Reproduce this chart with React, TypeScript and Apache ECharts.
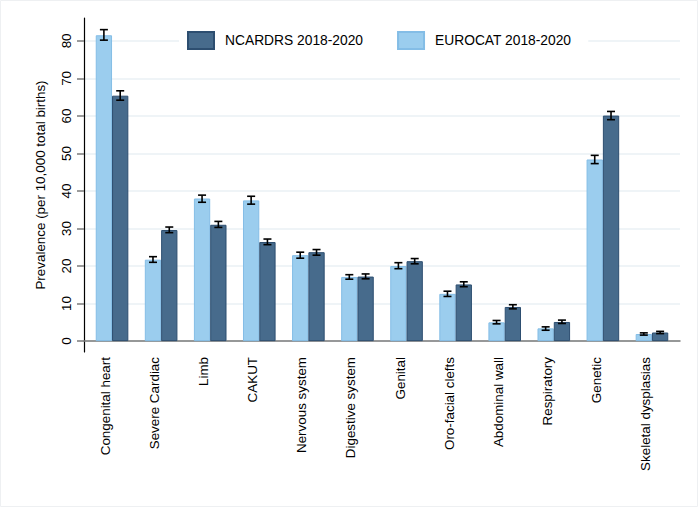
import React, { useEffect, useRef } from "react";
import * as echarts from "echarts";

const categories = [
  "Congenital heart",
  "Severe Cardiac",
  "Limb",
  "CAKUT",
  "Nervous system",
  "Digestive system",
  "Genital",
  "Oro-facial clefts",
  "Abdominal wall",
  "Respiratory",
  "Genetic",
  "Skeletal dysplasias",
];

const eurocat = [81.5, 21.7, 38.0, 37.5, 22.9, 17.1, 20.0, 12.6, 5.0, 3.4, 48.4, 1.9];
const eurocatLow = [80.2, 21.0, 37.0, 36.5, 22.1, 16.5, 19.3, 11.9, 4.6, 2.9, 47.3, 1.6];
const eurocatHigh = [83.0, 22.5, 38.9, 38.6, 23.7, 17.7, 20.9, 13.3, 5.5, 3.8, 49.5, 2.2];

const ncardrs = [65.4, 29.6, 31.0, 26.4, 23.7, 17.2, 21.3, 15.1, 9.1, 5.1, 60.1, 2.3];
const ncardrsLow = [64.2, 28.9, 30.3, 25.7, 22.9, 16.6, 20.6, 14.5, 8.6, 4.7, 59.0, 2.0];
const ncardrsHigh = [66.7, 30.4, 31.9, 27.2, 24.4, 17.9, 22.0, 15.8, 9.7, 5.6, 61.2, 2.6];

const yMin = -2.9;
const yMax = 86.1;
const tickMin = 0;
const tickMax = 80;
const tickStep = 10;

const NAME_N = "NCARDRS 2018-2020";
const NAME_E = "EUROCAT 2018-2020";
const FONT = "Arial, 'Liberation Sans', Helvetica, sans-serif";

function errorSeries(low: number[], high: number[], offset: number) {
  return {
    type: "custom",
    silent: true,
    z: 5,
    xAxisIndex: 0,
    yAxisIndex: 0,
    data: low.map((l, i) => [i, l, high[i]]),
    encode: { x: 0, y: [1, 2] },
    renderItem: (params: any, api: any) => {
      const idx = api.value(0);
      const lo = api.coord([idx, api.value(1)]);
      const hi = api.coord([idx, api.value(2)]);
      const x = lo[0] + offset;
      const cap = 4;
      const style = { stroke: "#000", lineWidth: 1.6 };
      return {
        type: "group",
        children: [
          { type: "line", shape: { x1: x, y1: lo[1], x2: x, y2: hi[1] }, style },
          { type: "line", shape: { x1: x - cap, y1: lo[1], x2: x + cap, y2: lo[1] }, style },
          { type: "line", shape: { x1: x - cap, y1: hi[1], x2: x + cap, y2: hi[1] }, style },
        ],
      };
    },
  };
}

export default function App() {
  const ref = useRef<HTMLDivElement>(null);
  useEffect(() => {
    if (!ref.current) return;
    const chart = echarts.init(ref.current, undefined, { renderer: "svg" });
    const top = 18;
    const bottom = 155;
    const h = 507 - top - bottom;
    const ppu = h / (yMax - yMin);
    const zeroY = top + (yMax - tickMin) * ppu;
    const topTick = top + (yMax - tickMax) * ppu;
    const outerLeft = 84;
    const outerRight = 18;
    chart.setOption({
      animation: false,
      backgroundColor: "#fff",
      textStyle: { fontFamily: FONT },
      graphic: [
        {
          type: "rect",
          shape: { x: 0.5, y: 0.5, width: 697, height: 506 },
          style: { fill: "none", stroke: "#eef0f2", lineWidth: 1 },
          silent: true,
        },
      ],
      grid: [
        { left: 87.5, right: 21.5, top, bottom, containLabel: false },
        { left: outerLeft, right: outerRight, top: topTick, bottom: 507 - zeroY, containLabel: false },
        { left: outerLeft, right: outerRight, top, bottom, containLabel: false },
      ],
      legend: {
        data: [NAME_N, NAME_E],
        left: 179,
        top: 24,
        padding: [7, 17, 7, 8],
        backgroundColor: "#fff",
        itemGap: 34,
        itemWidth: 26,
        itemHeight: 17,
        icon: "rect",
        z: 10,
        textStyle: { fontSize: 13.8, color: "#000", fontFamily: FONT, padding: [0, 0, 0, 6] },
      },
      xAxis: [
        {
          type: "category",
          gridIndex: 0,
          data: categories,
          axisLine: { show: false },
          axisTick: { show: false },
          axisLabel: {
            rotate: 90,
            interval: 0,
            margin: 5,
            fontSize: 13.4,
            color: "#000",
            fontFamily: FONT,
            verticalAlign: "bottom",
          },
          splitLine: { show: false },
        },
        { type: "category", gridIndex: 1, data: categories, show: false },
        {
          type: "category",
          gridIndex: 2,
          data: categories,
          axisLine: { show: true, lineStyle: { color: "#7a7a7a", width: 1.5 } },
          axisTick: { show: false },
          axisLabel: { show: false },
          splitLine: { show: false },
        },
      ],
      yAxis: [
        { type: "value", gridIndex: 0, min: yMin, max: yMax, show: false },
        {
          type: "value",
          gridIndex: 1,
          min: tickMin,
          max: tickMax,
          interval: tickStep,
          axisLine: { show: false },
          axisTick: {
            show: true,
            length: 7,
            lineStyle: { color: "#7a7a7a", width: 1.5 },
          },
          axisLabel: {
            rotate: 90,
            margin: 11,
            fontSize: 13.4,
            color: "#000",
            fontFamily: FONT,
          },
          splitLine: { show: true, lineStyle: { color: "#eaf1f5", width: 1.5 } },
        },
        {
          type: "value",
          gridIndex: 2,
          min: yMin,
          max: yMax,
          name: "Prevalence (per 10,000 total births)",
          nameLocation: "middle",
          nameRotate: 90,
          nameGap: 37,
          nameTextStyle: { fontSize: 13.4, color: "#000", fontFamily: FONT },
          axisLine: { show: true, lineStyle: { color: "#000", width: 1.2 } },
          axisTick: { show: false },
          axisLabel: { show: false },
          splitLine: { show: false },
        },
      ],
      series: [
        {
          name: NAME_E,
          type: "bar",
          xAxisIndex: 0,
          yAxisIndex: 0,
          data: eurocat,
          barWidth: 16.3,
          barGap: "0%",
          z: 2,
          itemStyle: { color: "#9bcdee", borderColor: "#84bde6", borderWidth: 1 },
        },
        {
          name: NAME_N,
          type: "bar",
          xAxisIndex: 0,
          yAxisIndex: 0,
          data: ncardrs,
          barWidth: 16.3,
          barGap: "0%",
          z: 2,
          itemStyle: { color: "#476b8c", borderColor: "#2d4e70", borderWidth: 1 },
        },
        errorSeries(eurocatLow, eurocatHigh, -8.15),
        errorSeries(ncardrsLow, ncardrsHigh, 8.15),
      ],
    });
    return () => chart.dispose();
  }, []);
  return (
    <div
      ref={ref}
      style={{ position: "fixed", left: 0, top: 0, width: 698, height: 507 }}
    />
  );
}
